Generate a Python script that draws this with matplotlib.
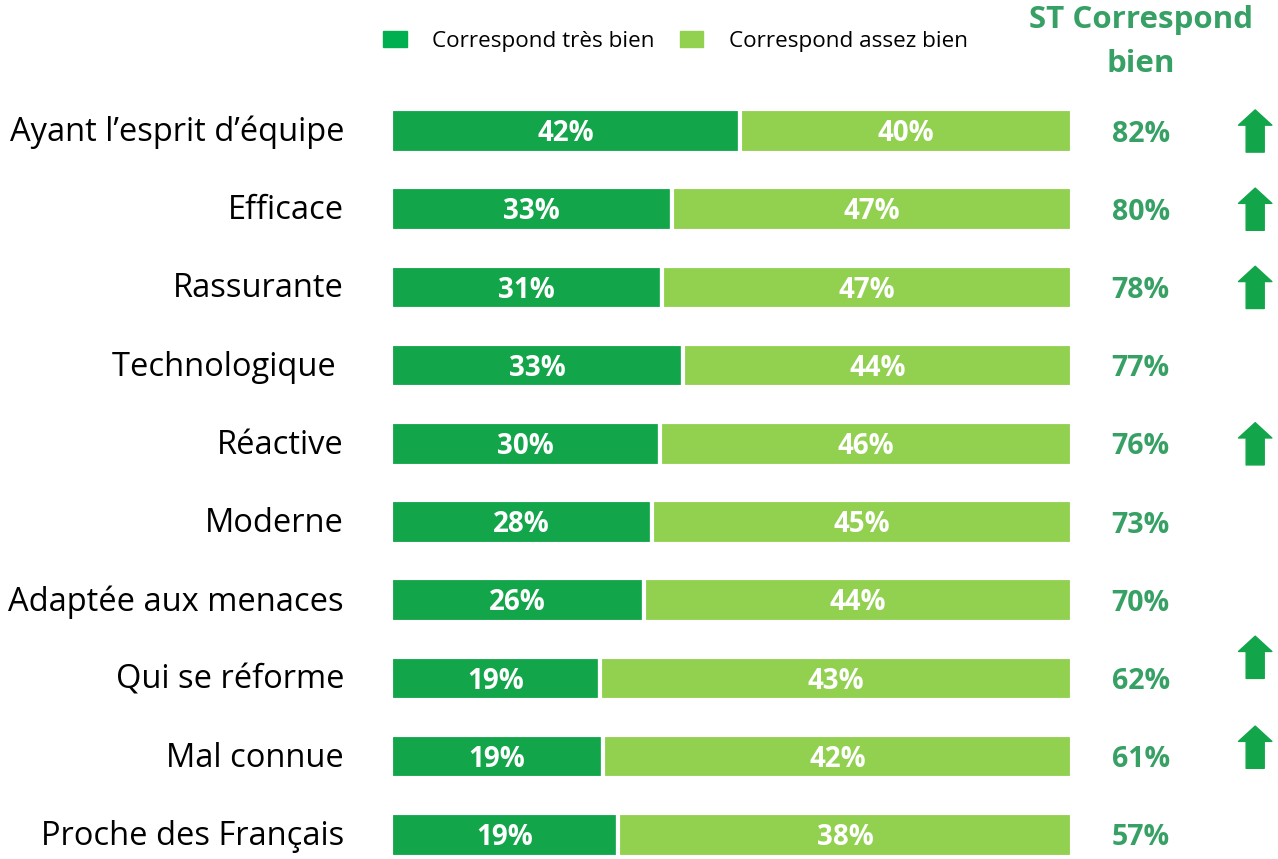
import numpy as np
import matplotlib.pyplot as plt
from matplotlib.patches import Patch

plt.rcParams['font.family'] = ['Open Sans', 'DejaVu Sans']

categories = ["Ayant l’esprit d’équipe", "Efficace", "Rassurante", "Technologique ",
              "Réactive", "Moderne", "Adaptée aux menaces", "Qui se réforme",
              "Mal connue", "Proche des Français"]
tres_bien = [42, 33, 31, 33, 30, 28, 26, 19, 19, 19]
assez_bien = [40, 47, 47, 44, 46, 45, 44, 43, 42, 38]
st_bien = [82, 80, 78, 77, 76, 73, 70, 62, 61, 57]
hausse = [True, True, True, False, True, False, False, True, True, False]
# les deux dernières flèches sont un peu remontées dans l'original
arrow_shift = [0, 0, 0, 0, 0, 0, 0, -0.27, -0.12, 0]

dark = '#12A54A'
light = '#92D050'
green_txt = '#36A065'

W, H = 1278, 859
fig = plt.figure(figsize=(W / 100, H / 100), dpi=100)
ax = fig.add_axes([391 / W, 0, (1072 - 391) / W, 1])

y = np.arange(len(categories))
tot = np.array(tres_bien) + np.array(assez_bien)
f1 = np.array(tres_bien) / tot
f2 = np.array(assez_bien) / tot

ax.barh(y, f1, height=0.56, color=dark, edgecolor='white', linewidth=3)
ax.barh(y, f2, left=f1, height=0.56, color=light, edgecolor='white', linewidth=3)

for i in range(len(categories)):
    ax.text(f1[i] / 2, y[i] + 0.035, f"{tres_bien[i]}%", ha='center', va='center',
            color='white', fontsize=20, fontweight='bold')
    ax.text(f1[i] + f2[i] / 2, y[i] + 0.035, f"{assez_bien[i]}%", ha='center', va='center',
            color='white', fontsize=20, fontweight='bold')
    ax.text(-0.069, y[i] + 0.02, categories[i], ha='right', va='center',
            fontsize=23.5, color='black', transform=ax.get_yaxis_transform())
    ax.text(1.101, y[i] + 0.04, f"{st_bien[i]}%", ha='center', va='center',
            fontsize=20.5, fontweight='bold', color=green_txt,
            transform=ax.get_yaxis_transform())
    if hausse[i]:
        yy = y[i] + arrow_shift[i]
        ax.annotate('', xy=(1.269, yy - 0.27), xytext=(1.269, yy + 0.27),
                    xycoords=('axes fraction', 'data'),
                    textcoords=('axes fraction', 'data'),
                    arrowprops=dict(arrowstyle='simple,head_width=24,head_length=11,tail_width=13',
                                    mutation_scale=1, color=dark, shrinkA=0, shrinkB=0),
                    annotation_clip=False)

ax.set_xlim(0, 1)
ax.set_ylim((H - 131) / 78.2, -131 / 78.2)
ax.axis('off')

fig.text(1141 / W, 1 - 20 / H, "ST Correspond", ha='center', va='center',
         fontsize=22.5, fontweight='bold', color=green_txt)
fig.text(1141 / W, 1 - 64 / H, "bien", ha='center', va='center',
         fontsize=22.5, fontweight='bold', color=green_txt)

handles = [Patch(color='#00B050', label='Correspond très bien'),
           Patch(color=light, label='Correspond assez bien')]
fig.legend(handles=handles, ncol=2, loc='center left',
           bbox_to_anchor=(383 / W, 1 - 41 / H), frameon=False, fontsize=16.2,
           borderpad=0, borderaxespad=0,
           handlelength=1.05, handleheight=0.7, handletextpad=1.15, columnspacing=1.1)

fig.savefig('out.png', dpi=100)
